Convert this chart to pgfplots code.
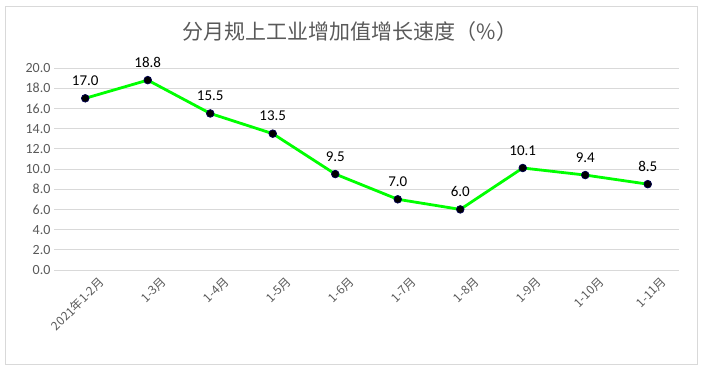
\documentclass[border=0pt]{standalone}
\usepackage{fontspec}
\setmainfont{Carlito}
\newfontfamily\cjk{Noto Sans CJK SC}
\usepackage{pgfplots}
\pgfplotsset{compat=1.18}
\definecolor{gridc}{HTML}{D9D9D9}
\definecolor{tickc}{HTML}{595959}
\definecolor{linec}{HTML}{00FF00}
\begin{document}
\begin{tikzpicture}[x=1pt,y=1pt]
\path[use as bounding box] (0,0) rectangle (703,368);
\draw[gridc, line width=1pt] (5,4) rectangle (697,362);
\node[text=tickc, font=\cjk\fontsize{21}{24}\selectfont] at (350,336) {分月规上工业增加值增长速度（\%）};
\begin{axis}[
  at={(54pt,98pt)}, anchor=south west,
  scale only axis, width=625pt, height=202pt,
  xmin=-0.5, xmax=9.5, ymin=0, ymax=20,
  axis line style={draw=none},
  xtick={0,...,9},
  xticklabels={2021年1-2月,1-3月,1-4月,1-5月,1-6月,1-7月,1-8月,1-9月,1-10月,1-11月},
  xticklabel style={rotate=45, anchor=north east, font=\cjk\fontsize{12}{13}\selectfont, text=tickc, inner sep=1pt, xshift=6pt, yshift=-12pt},
  ytick={0,2,...,20},
  yticklabel style={font=\fontsize{14}{15}\selectfont, text=tickc},
  /pgf/number format/assume math mode=true,
  yticklabel={\pgfmathprintnumber[fixed,fixed zerofill,precision=1]{\tick}},
  major tick length=0pt,
  ymajorgrids, grid style={gridc, line width=1pt},
  clip=false,
  nodes near coords={\pgfmathprintnumber[fixed,fixed zerofill,precision=1]{\pgfplotspointmeta}},
  nodes near coords style={font=\fontsize{15}{16}\selectfont, text=black, anchor=south, yshift=9pt},
]
\addplot[color=linec, line width=2.8pt, mark=*, mark size=3.8pt,
  mark options={fill=black, draw=black!70!blue, line width=0.8pt}]
  coordinates {(0,17.0) (1,18.8) (2,15.5) (3,13.5) (4,9.5) (5,7.0) (6,6.0) (7,10.1) (8,9.4) (9,8.5)};
\end{axis}
\end{tikzpicture}
\end{document}
